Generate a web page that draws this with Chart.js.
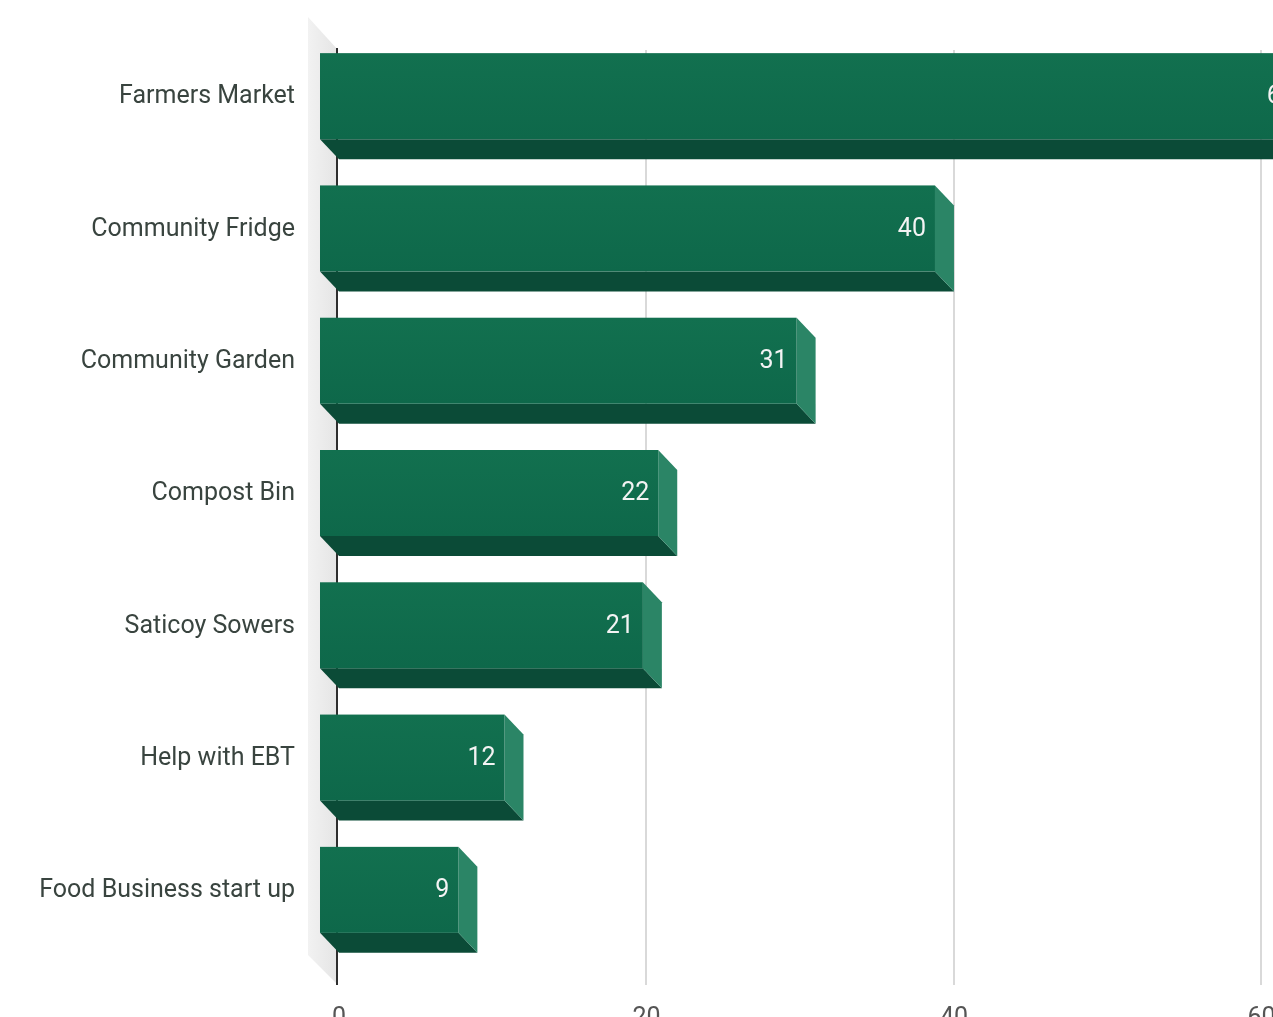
<!DOCTYPE html>
<html>
<head>
<meta charset="utf-8">
<script src="https://cdn.jsdelivr.net/npm/chart.js@4.4.0/dist/chart.umd.min.js"></script>
<style>
  html, body { margin: 0; padding: 0; background: #fff; overflow: hidden; }
  #wrap { position: absolute; left: 0; top: 0; width: 1611px; height: 1036px; }
</style>
</head>
<body>
<div id="wrap"><canvas id="chart" width="1611" height="1036"></canvas></div>
<script>
const categories = [
  'Farmers Market',
  'Community Fridge',
  'Community Garden',
  'Compost Bin',
  'Saticoy Sowers',
  'Help with EBT',
  'Food Business start up'
]
const counts = [64, 40, 31, 22, 21, 12, 9]
const tickValues = [0, 20, 40, 60]

// depth of the fake 3d boxes, front face sits up-left of the value plane
const DX = 19
const DY = 20

const bars3d = {
  id: 'bars3d',
  beforeDatasetsDraw(chart) {
    const { ctx, chartArea, scales } = chart
    const x = scales.x
    const zero = x.getPixelForValue(0)
    const top = chartArea.top
    const bottom = chartArea.bottom + 9

    ctx.save()
    // side wall
    const wall = ctx.createLinearGradient(zero - 31, 0, zero, 0)
    wall.addColorStop(0, '#f2f2f2')
    wall.addColorStop(1, '#e4e4e4')
    ctx.fillStyle = wall
    ctx.beginPath()
    ctx.moveTo(zero - 31, top - 33)
    ctx.lineTo(zero - 1, top)
    ctx.lineTo(zero - 1, bottom)
    ctx.lineTo(zero - 31, bottom - 30)
    ctx.closePath()
    ctx.fill()

    // grid lines
    ctx.strokeStyle = '#d9d9d9'
    ctx.lineWidth = 2
    tickValues.forEach(v => {
      if (v === 0) return
      const px = Math.round(x.getPixelForValue(v))
      ctx.beginPath()
      ctx.moveTo(px, top)
      ctx.lineTo(px, bottom)
      ctx.stroke()
    })

    // zero axis
    ctx.strokeStyle = '#2e2e2e'
    ctx.lineWidth = 2
    ctx.beginPath()
    ctx.moveTo(zero - 2, top - 2)
    ctx.lineTo(zero - 2, bottom)
    ctx.stroke()
    ctx.restore()
  },
  afterDatasetsDraw(chart) {
    const { ctx } = chart
    const meta = chart.getDatasetMeta(0)
    ctx.save()
    meta.data.forEach((bar, i) => {
      const p = bar.getProps(['x', 'y', 'base', 'height'], true)
      const end = p.x
      const base = p.base
      const t = p.y - p.height / 2
      const b = p.y + p.height / 2

      // bottom face
      ctx.fillStyle = '#0b4b37'
      ctx.beginPath()
      ctx.moveTo(base - DX, b - DY)
      ctx.lineTo(end - DX, b - DY)
      ctx.lineTo(end, b)
      ctx.lineTo(base, b)
      ctx.closePath()
      ctx.fill()

      // side face
      ctx.fillStyle = '#2b8566'
      ctx.beginPath()
      ctx.moveTo(end - DX, t - DY)
      ctx.lineTo(end, t)
      ctx.lineTo(end, b)
      ctx.lineTo(end - DX, b - DY)
      ctx.closePath()
      ctx.fill()

      // front face
      const g = ctx.createLinearGradient(0, t - DY, 0, b - DY)
      g.addColorStop(0, '#12704f')
      g.addColorStop(1, '#0e684a')
      ctx.fillStyle = g
      ctx.fillRect(base - DX, t - DY, end - base, b - t)

      // value label
      ctx.fillStyle = '#f3f3f3'
      ctx.font = '25px Roboto'
      ctx.textAlign = 'right'
      ctx.textBaseline = 'middle'
      ctx.fillText(String(counts[i]), end - DX - 9, p.y - DY + 1)
    })
    ctx.restore()
  }
}

new Chart(document.getElementById('chart'), {
  type: 'bar',
  data: {
    labels: categories,
    datasets: [{
      data: counts,
      backgroundColor: 'rgba(0,0,0,0)',
      borderWidth: 0,
      barThickness: 86
    }]
  },
  options: {
    indexAxis: 'y',
    responsive: false,
    animation: false,
    layout: {
      padding: { top: 50, right: 37, bottom: 0, left: 0 }
    },
    plugins: {
      legend: { display: false },
      tooltip: { enabled: false }
    },
    scales: {
      x: {
        min: 0,
        max: 80,
        afterFit(scale) { scale.height = 60 },
        grid: { display: false, drawTicks: false },
        border: { display: false },
        ticks: {
          stepSize: 20,
          padding: 28,
          color: '#555',
          font: { family: 'Roboto', size: 25 }
        }
      },
      y: {
        afterFit(scale) {
          scale.width = 339
          scale.paddingTop = 0
          scale.paddingBottom = 0
        },
        grid: { display: false, drawTicks: false },
        border: { display: false },
        ticks: {
          padding: 44,
          labelOffset: -19,
          color: '#39443f',
          font: { family: 'Roboto', size: 25 }
        }
      }
    }
  },
  plugins: [bars3d]
})
</script>
</body>
</html>
